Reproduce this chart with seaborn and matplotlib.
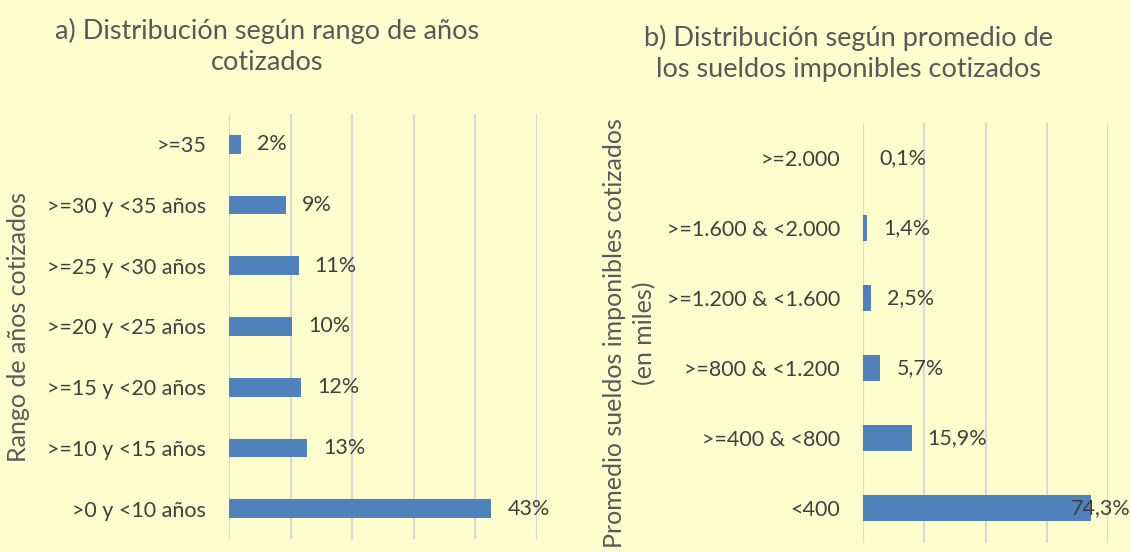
import numpy as np
import pandas as pd
import matplotlib
matplotlib.use("Agg")
import matplotlib.pyplot as plt
import seaborn as sns

sns.set_theme(style="white")
plt.rcParams["font.family"] = ["Lato", "DejaVu Sans"]

BG = "#FFFDCD"
BAR = "#4F81BD"
TXT = "#404040"
TITLE = "#595959"
GRID = "#D9D9D9"

# ---------------------------------------------------------------------------
# data
# ---------------------------------------------------------------------------
anios_cat = [">=35", ">=30 y <35 años", ">=25 y <30 años", ">=20 y <25 años",
             ">=15 y <20 años", ">=10 y <15 años", ">0 y <10 años"]
anios_pct = [2.0, 9.2, 11.3, 10.3, 11.7, 12.7, 42.6]

sueldo_cat = [">=2.000", ">=1.600 & <2.000", ">=1.200 & <1.600",
              ">=800 & <1.200", ">=400 & <800", "<400"]
sueldo_pct = [0.1, 1.4, 2.5, 5.7, 15.9, 74.3]

df_a = pd.DataFrame({"cat": anios_cat, "pct": anios_pct})
df_b = pd.DataFrame({"cat": sueldo_cat, "pct": sueldo_pct})

fig = plt.figure(figsize=(11.31, 5.52), dpi=100, facecolor=BG)


def panel(ax, df, xmax, step, width, fmt, ylabel):
    ax.set_facecolor(BG)
    sns.barplot(data=df, x="pct", y="cat", orient="h", color=BAR,
                width=width, saturation=1, linewidth=0, ax=ax, zorder=3)
    ax.set_xlim(0, xmax)
    ax.set_xticks(np.arange(0, xmax + 0.01, step))
    ax.set_xticklabels([])
    ax.grid(axis="x", color=GRID, linewidth=1.5, zorder=0)
    ax.grid(axis="y", visible=False)
    sns.despine(ax=ax, left=True, bottom=True)
    ax.tick_params(axis="y", length=0, pad=16.5, labelsize=15.5, labelcolor=TXT)
    ax.tick_params(axis="x", length=0)
    ax.set_xlabel("")
    ax.set_ylabel(ylabel, fontsize=18, color=TITLE, linespacing=1.35)
    for i, v in enumerate(df["pct"]):
        ax.annotate(fmt(v), (v, i), xytext=(11.5, 0), textcoords="offset points",
                    va="center", ha="left", fontsize=15.5, color=TXT,
                    annotation_clip=False)


ax_a = fig.add_axes([229 / 1131, 1 - 539 / 552, 308 / 1131, 425 / 552])
panel(ax_a, df_a, 50, 10, 0.31, lambda v: f"{v:.0f}%",
      "Rango de años cotizados")
ax_a.yaxis.set_label_coords(-0.645, 0.5)
fig.text(267 / 1131, 1 - 46 / 552,
         "a) Distribución según rango de años\ncotizados",
         ha="center", va="center", fontsize=19.5, color=TITLE, linespacing=1.3)

ax_b = fig.add_axes([863 / 1131, 1 - 543 / 552, 245 / 1131, 420 / 552])
panel(ax_b, df_b, 80, 20, 0.36, lambda v: f"{v:.1f}%".replace(".", ","),
      "Promedio sueldos imponibles cotizados\n(en miles)")
ax_b.yaxis.set_label_coords(-0.845, 0.5)
# last label sits over the end of the longest bar
ax_b.texts[-1].set_position((-14.5, 0))
fig.text(848 / 1131, 1 - 53 / 552,
         "b) Distribución según promedio de\nlos sueldos imponibles cotizados",
         ha="center", va="center", fontsize=19.5, color=TITLE, linespacing=1.3)

fig.savefig("out.png", dpi=100, facecolor=BG)
